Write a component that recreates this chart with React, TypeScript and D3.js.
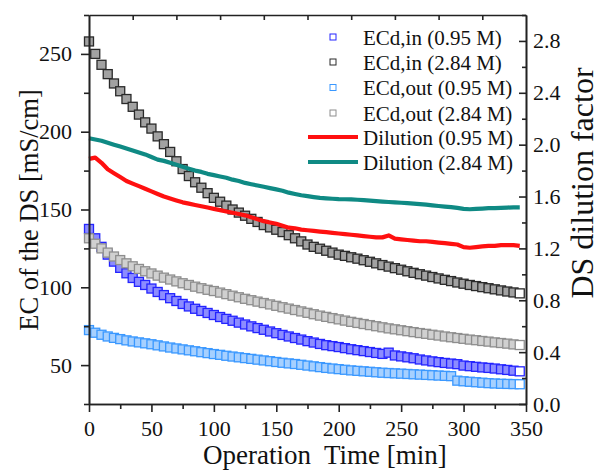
import React, { useRef, useEffect } from "react";
import * as d3 from "d3";

// sampling time of the marker series, min
const time = d3.range(0, 350, 5);

// EC of the draw solution [mS/cm], left axis
const ecInLow = [
  137.5, 131.5, 126, 121, 116.5, 112.5, 109, 106, 103.5, 101.5,
  99.2, 97, 95, 93, 91.2, 89.3, 87.7, 86.2, 84.8, 83.5,
  82.2, 80.9, 79.7, 78.5, 77.3, 76.1, 74.9, 73.8, 72.7, 71.6,
  70.5, 69.4, 68.4, 67.4, 66.4, 65.4, 64.5, 63.6, 62.8, 62.2,
  61.6, 60.9, 60.2, 59.6, 59, 58.4, 57.8, 57.2, 58, 56.2,
  55.6, 55, 54.4, 53.6, 53, 52.4, 51.9, 51.4, 51, 50.6,
  49.7, 49.3, 48.9, 48.5, 48.2, 47.8, 47.3, 46.9, 46.4, 46,
];
const ecInHigh = [
  258, 250, 243, 237, 231, 226, 221, 216, 211, 206,
  202, 197, 192, 187, 181, 176, 171.5, 167.5, 164, 160.5,
  157.5, 155, 152.5, 150, 148, 146, 144, 142, 140, 138.5,
  137, 135.5, 133.5, 131.5, 129.5, 127.5, 126, 124.8, 123.5, 122.3,
  121, 120.2, 119.3, 118.4, 117.4, 116.4, 115.4, 114.3, 113.3, 112.3,
  111.3, 110.3, 109.3, 108.4, 107.5, 106.6, 105.7, 104.8, 104, 103.1,
  102.3, 101.5, 100.8, 100.1, 99.4, 98.7, 98, 97.3, 96.7, 96.1,
];
const ecOutLow = [
  72.5, 70.8, 69.5, 68.4, 67.5, 66.7, 65.9, 65.2, 64.6, 64,
  63.4, 62.7, 62, 61.3, 60.7, 60.1, 59.5, 58.9, 58.3, 57.7,
  57.1, 56.6, 56, 55.5, 55, 54.5, 54, 53.5, 53, 52.5,
  52, 51.5, 51.1, 50.7, 50.2, 49.7, 49.2, 48.7, 48.2, 47.8,
  47.4, 47, 46.6, 46.3, 46, 45.7, 45.4, 45.1, 44.9, 44.7,
  44.5, 44.3, 44.1, 43.9, 43.7, 43.5, 43.3, 43.1, 42.9, 40,
  39.6, 39.3, 39, 38.7, 38.4, 38.2, 38, 37.9, 37.8, 37.7,
];
const ecOutHigh = [
  131.5, 128, 125, 122.3, 119.8, 117.5, 115.4, 113.5, 111.8, 110.3,
  108.9, 107.5, 106.2, 105, 103.8, 102.6, 101.5, 100.4, 99.4, 98.4,
  97.6, 96.6, 95.6, 94.6, 93.6, 92.6, 91.7, 90.8, 89.9, 89,
  88.1, 87.2, 86.3, 85.4, 84.5, 83.6, 82.7, 81.8, 81, 80.2,
  79.4, 78.6, 77.8, 77.1, 76.4, 75.7, 75, 74.3, 73.6, 73,
  72.4, 71.8, 71.2, 70.6, 70.1, 69.5, 69, 68.4, 67.9, 67.4,
  66.9, 66.4, 66, 65.5, 65.1, 64.6, 64.2, 63.8, 63.3, 62.9,
];

// DS dilution factor, right axis
const dilutionLow = [
  1.89, 1.9, 1.86, 1.81, 1.78, 1.75, 1.72, 1.7, 1.68, 1.66,
  1.64, 1.62, 1.6, 1.585, 1.57, 1.555, 1.545, 1.535, 1.525, 1.515,
  1.505, 1.495, 1.485, 1.475, 1.465, 1.455, 1.44, 1.425, 1.41, 1.4,
  1.39, 1.375, 1.36, 1.355, 1.345, 1.34, 1.335, 1.33, 1.325, 1.32,
  1.315, 1.31, 1.305, 1.3, 1.295, 1.29, 1.285, 1.285, 1.3, 1.275,
  1.27, 1.265, 1.26, 1.255, 1.255, 1.25, 1.245, 1.24, 1.235, 1.23,
  1.21, 1.205, 1.21, 1.215, 1.22, 1.22, 1.225, 1.225, 1.225, 1.22,
];
const dilutionHigh = [
  2.05, 2.04, 2.03, 2.015, 2.0, 1.985, 1.97, 1.955, 1.94, 1.925,
  1.905, 1.885, 1.875, 1.86, 1.845, 1.83, 1.815, 1.8, 1.79, 1.775,
  1.765, 1.755, 1.745, 1.73, 1.72, 1.705, 1.695, 1.685, 1.675, 1.665,
  1.655, 1.645, 1.63, 1.62, 1.61, 1.603, 1.596, 1.59, 1.586, 1.583,
  1.58, 1.579, 1.578, 1.575, 1.572, 1.569, 1.565, 1.561, 1.558, 1.555,
  1.552, 1.549, 1.545, 1.541, 1.537, 1.532, 1.527, 1.522, 1.518, 1.512,
  1.505, 1.502, 1.505, 1.507, 1.51, 1.51, 1.512, 1.515, 1.517, 1.517,
];

const xTicks = [0, 50, 100, 150, 200, 250, 300, 350];
const xMinor = [25, 75, 125, 175, 225, 275, 325];
const topTicks = [35, 70, 105, 140, 175, 210, 245, 280, 315];
const leftTicks = [50, 100, 150, 200, 250];
const leftMinor = [25, 75, 125, 175, 225, 275];
const rightTicks = [0, 0.4, 0.8, 1.2, 1.6, 2.0, 2.4, 2.8];
const rightMinor = [0.2, 0.6, 1.0, 1.4, 1.8, 2.2, 2.6, 3.0];

const markerSeries = [
  { name: "ECd,in (0.95 M)", values: ecInLow, color: "#2424ff", tint: "#8c8cff" },
  { name: "ECd,in (2.84 M)", values: ecInHigh, color: "#2a2a2a", tint: "#a2a2a2" },
  { name: "ECd,out (0.95 M)", values: ecOutLow, color: "#3a98ff", tint: "#a6d0ff" },
  { name: "ECd,out (2.84 M)", values: ecOutHigh, color: "#8e8e8e", tint: "#d0d0d0" },
];
const lineSeries = [
  { name: "Dilution (0.95 M)", values: dilutionLow, color: "#ff1010" },
  { name: "Dilution (2.84 M)", values: dilutionHigh, color: "#0f8a84" },
];

const W = 603;
const H = 473;
const margin = { left: 89, right: 77, top: 15, bottom: 69 };
const font = "'Liberation Serif', 'Times New Roman', serif";
const MS = 9; // marker size

const App = () => {
  const svgRef = useRef(null);

  useEffect(() => {
    const svg = d3.select(svgRef.current);
    svg.selectAll("*").remove();

    const x = d3.scaleLinear().domain([0, 350]).range([margin.left, W - margin.right]);
    const yL = d3.scaleLinear().domain([25, 275]).range([H - margin.bottom, margin.top]);
    const yR = d3.scaleLinear().domain([0, 3]).range([H - margin.bottom, margin.top]);
    const bottom = H - margin.bottom;
    const right = W - margin.right;

    // open squares, overlapping; the last one stays white inside
    markerSeries.forEach((s) => {
      const n = s.values.length;
      svg
        .append("g")
        .selectAll("rect")
        .data(s.values)
        .join("rect")
        .attr("x", (d, i) => x(time[i]) - MS / 2)
        .attr("y", (d) => yL(d) - MS / 2)
        .attr("width", MS)
        .attr("height", MS)
        .attr("fill", (d, i) => (i === n - 1 ? "#fff" : s.tint))
        .attr("stroke", s.color)
        .attr("stroke-width", 1.3);
    });

    const dilLine = d3
      .line<number>()
      .x((d, i) => x(time[i]))
      .y((d) => yR(d));

    lineSeries.forEach((s) => {
      svg
        .append("path")
        .datum(s.values)
        .attr("d", dilLine)
        .attr("fill", "none")
        .attr("stroke", s.color)
        .attr("stroke-width", 4.2)
        .attr("stroke-linejoin", "round");
    });

    const styleAxis = (g) => {
      g.attr("color", "#222").attr("font-family", font).attr("font-size", 22);
      g.selectAll("path, line").attr("stroke-width", 1.6);
      g.selectAll("text").attr("fill", "#111");
    };

    // axes
    svg
      .append("g")
      .attr("transform", `translate(0,${bottom})`)
      .call(d3.axisBottom(x).tickValues(xTicks).tickSize(8).tickSizeOuter(0).tickPadding(8))
      .call(styleAxis);
    svg
      .append("g")
      .attr("transform", `translate(0,${bottom})`)
      .call(d3.axisBottom(x).tickValues(xMinor).tickSize(5).tickFormat(() => "").tickSizeOuter(0))
      .call(styleAxis);
    svg
      .append("g")
      .attr("transform", `translate(0,${margin.top})`)
      .call(d3.axisTop(x).tickValues(topTicks).tickSize(-5).tickFormat(() => "").tickSizeOuter(0))
      .call(styleAxis);

    svg
      .append("g")
      .attr("transform", `translate(${margin.left},0)`)
      .call(d3.axisLeft(yL).tickValues(leftTicks).tickSize(8).tickSizeOuter(0).tickPadding(9))
      .call(styleAxis);
    svg
      .append("g")
      .attr("transform", `translate(${margin.left},0)`)
      .call(d3.axisLeft(yL).tickValues(leftMinor).tickSize(5).tickFormat(() => "").tickSizeOuter(0))
      .call(styleAxis);

    svg
      .append("g")
      .attr("transform", `translate(${right},0)`)
      .call(
        d3.axisRight(yR).tickValues(rightTicks).tickSize(-7).tickSizeOuter(0).tickPadding(7).tickFormat(d3.format(".1f"))
      )
      .call(styleAxis);
    svg
      .append("g")
      .attr("transform", `translate(${right},0)`)
      .call(d3.axisRight(yR).tickValues(rightMinor).tickSize(-4).tickFormat(() => "").tickSizeOuter(0))
      .call(styleAxis);

    // axis titles
    svg
      .append("text")
      .attr("x", 203)
      .attr("y", 464)
      .attr("font-family", font)
      .attr("font-size", 27)
      .attr("fill", "#111")
      .style("white-space", "pre")
      .text("Operation  Time [min]");
    svg
      .append("text")
      .attr("transform", "translate(38,210) rotate(-90)")
      .attr("text-anchor", "middle")
      .attr("font-family", font)
      .attr("font-size", 26.5)
      .attr("fill", "#111")
      .text("EC of the DS [mS/cm]");
    svg
      .append("text")
      .attr("transform", "translate(593,183) rotate(-90)")
      .attr("text-anchor", "middle")
      .attr("font-family", font)
      .attr("font-size", 32)
      .attr("fill", "#111")
      .text("DS dilution factor");

    // legend
    const legend = svg.append("g").attr("font-family", font).attr("font-size", 21).attr("fill", "#111");
    const rowY = [37, 62, 87.5, 113, 137, 162];
    markerSeries.forEach((s, i) => {
      legend
        .append("rect")
        .attr("x", 330)
        .attr("y", rowY[i] - 3)
        .attr("width", 6)
        .attr("height", 6)
        .attr("fill", "#fff")
        .attr("stroke", s.color)
        .attr("stroke-width", 1);
      legend.append("text").attr("x", 363).attr("y", rowY[i] + 7.5).text(s.name);
    });
    lineSeries.forEach((s, j) => {
      const i = j + markerSeries.length;
      legend
        .append("line")
        .attr("x1", 308)
        .attr("x2", 358)
        .attr("y1", rowY[i])
        .attr("y2", rowY[i])
        .attr("stroke", s.color)
        .attr("stroke-width", 4);
      legend.append("text").attr("x", 363).attr("y", rowY[i] + 7.5).text(s.name);
    });
  }, []);

  return (
    <svg
      ref={svgRef}
      width={W}
      height={H}
      style={{ position: "absolute", left: 0, top: 0, background: "#fff" }}
    ></svg>
  );
};

export default App;
